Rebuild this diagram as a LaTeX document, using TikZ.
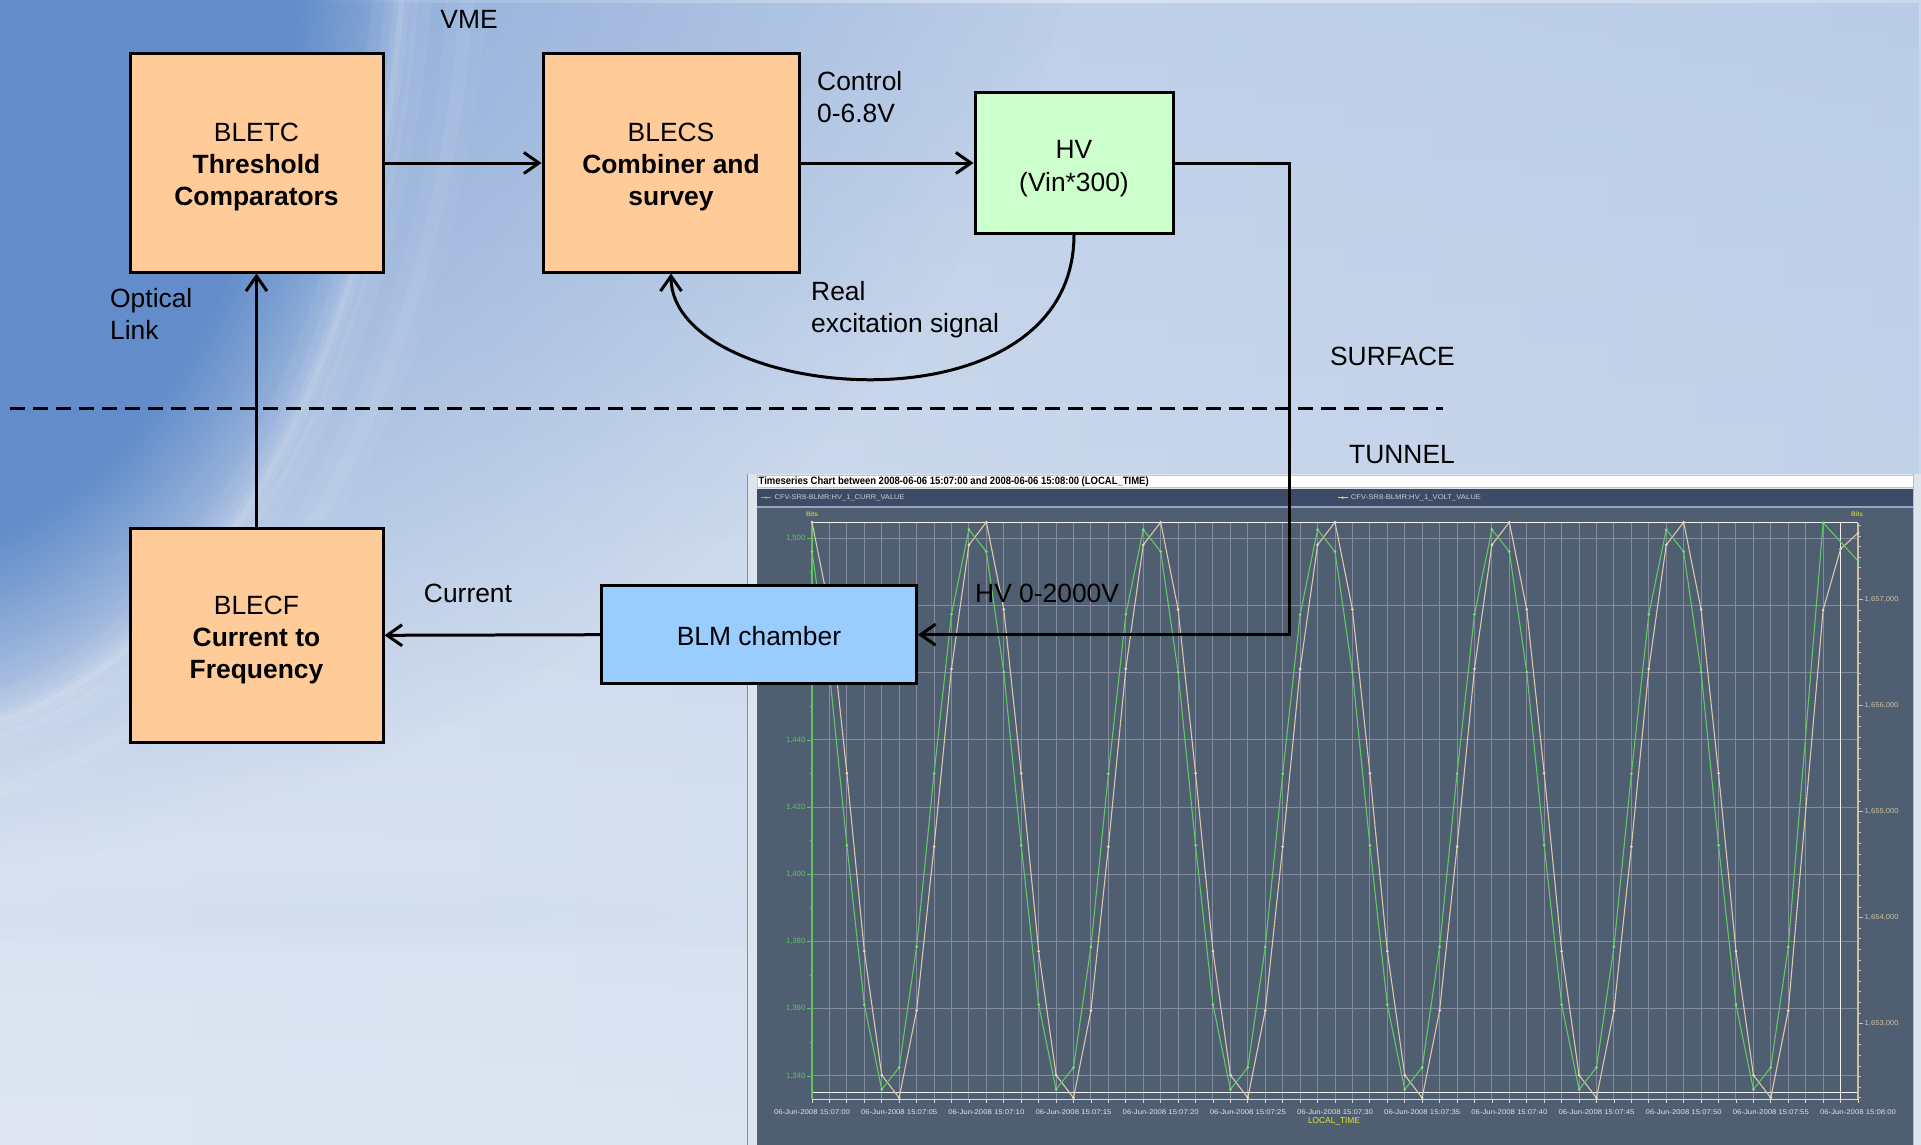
\documentclass[tikz,border=0pt]{standalone}
\usepackage{fontspec}
\usepackage{graphicx}
\setmainfont{Liberation Sans}
\usetikzlibrary{arrows.meta,fadings}

% block colours
\definecolor{boxorange}{RGB}{255,204,153}
\definecolor{boxgreen}{RGB}{204,255,204}
\definecolor{boxblue}{RGB}{153,204,255}
% backdrop colours
\definecolor{bgA}{RGB}{224,231,243}
\definecolor{bgB}{RGB}{220,229,242}
\definecolor{bgC}{RGB}{203,216,236}
\definecolor{bgTop}{RGB}{182,201,229}
\definecolor{bgHaze}{RGB}{128,162,212}
\definecolor{bgDeep}{RGB}{98,141,202}
% chart colours
\definecolor{plotbg}{RGB}{80,94,114}
\definecolor{legbar}{RGB}{61,75,103}
\definecolor{legline}{RGB}{150,165,192}
\definecolor{legtext}{RGB}{200,206,218}
\definecolor{gridc}{RGB}{134,139,160}
\definecolor{sergreen}{RGB}{98,200,98}
\definecolor{sertan}{RGB}{216,201,168}
\definecolor{axgreen}{RGB}{95,195,95}
\definecolor{axtan}{RGB}{205,192,165}
\definecolor{chartyellow}{RGB}{228,228,40}
\definecolor{panelgray}{RGB}{222,228,238}
\definecolor{panelline}{RGB}{118,146,196}
\definecolor{ticklabel}{RGB}{225,228,232}

\pgfdeclarehorizontalshading{bgsweep}{100bp}{color(0bp)=(bgA); color(25bp)=(bgA); color(45bp)=(bgB); color(75bp)=(bgC); color(100bp)=(bgC)}
\pgfdeclareradialshading{hazeshade}{\pgfpointorigin}{color(0bp)=(white); color(7bp)=(white); color(25bp)=(black); color(50bp)=(black)}
\pgfdeclarefading{hazefade}{\pgfuseshading{hazeshade}}
\pgfdeclareradialshading{coreshade}{\pgfpointorigin}{color(0bp)=(white); color(19bp)=(white); color(25bp)=(black); color(50bp)=(black)}
\pgfdeclarefading{corefade}{\pgfuseshading{coreshade}}
\tikzfading[name=topfade, top color=transparent!0, bottom color=transparent!100]

\newcommand\diafont{\fontsize{26.4}{32.2}\selectfont}
\newcommand\fitbox[3]{\resizebox{#1pt}{#2pt}{#3}}
% taller first line, to sit the block texts a little lower
\newcommand\lowstrut[1]{\rule{0pt}{#1pt}}

\begin{document}
\begin{tikzpicture}[x=1pt,y=-1pt,
  blk/.style={draw=black, line width=3pt, inner sep=0pt, align=center, font=\diafont},
  arr/.style={draw=black, line width=3pt, -{Straight Barb[length=15pt,width=21pt]}},
  lbl/.style={inner sep=0pt, align=left, font=\diafont},
  tiny/.style={inner sep=0pt},
  gridln/.style={draw=gridc, line width=1pt},
]
\useasboundingbox (0,0) rectangle (1921,1145);

% ---------- backdrop ----------
\begin{scope}
  \clip (0,0) rectangle (1921,1145);
  \shade[shading=bgsweep] (0,0) rectangle (1921,1145);
  \fill[bgTop, path fading=topfade, opacity=0.75] (0,0) rectangle (1921,1145);
  % broad blue haze from the upper left
  \fill[bgHaze, path fading=hazefade] (-300,-200) ellipse [x radius=1400, y radius=1100];
  % deeper blue core bounded by the swoosh
  \fill[bgDeep, path fading=corefade] (-100,-100) ellipse [x radius=520, y radius=850];
  % soft light swoosh arcs
  \foreach \w/\o in {60/0.05, 34/0.06, 16/0.08, 6/0.10}
    \draw[white, opacity=\o, line width=\w pt] (-100,-100) ellipse [x radius=505, y radius=838];
  \foreach \w/\o in {40/0.04, 14/0.06}
    \draw[white, opacity=\o, line width=\w pt] (-100,-100) ellipse [x radius=570, y radius=905];
  % faint horizontal band low on the left
  \fill[bgC, opacity=0.35, path fading=hazefade] (350,915) ellipse [x radius=650, y radius=40];
\end{scope}

% ---------- surface / tunnel boundary ----------
\coordinate (dashL) at (10,408.3);
\coordinate (dashR) at (1443,408.3);
\draw[black, line width=3pt, dash pattern=on 15pt off 8pt] (dashL) -- (dashR);

% ---------- time-series chart ----------
\fill[panelgray] (747,474) rectangle (1921,1145);
\draw[panelline, line width=1.2pt] (747.6,474) -- (747.6,1145);
\fill[white] (757,475.5) rectangle (1913,487.5);
\draw[gray!45, line width=0.8pt] (757,475.5) rectangle (1913,487.5);
\node[tiny, anchor=west] (ctitle) at (758.5,481.7)
  {\fitbox{390}{7.7}{\bfseries Timeseries Chart between 2008-06-06 15:07:00 and 2008-06-06 15:08:00 (LOCAL\_TIME)}};
\fill[legbar] (757,489.3) rectangle (1913,506.5);
\fill[plotbg] (757,506.5) rectangle (1913,1145);
\draw[legline, line width=1.2pt] (757,507) -- (1913,507);
\draw[panelline!60, line width=1pt] (1913.5,474) -- (1913.5,1145);

% legend
\draw[sergreen, line width=0.8pt] (761,497.7) -- (771,497.7);
\fill[sergreen] (766,497.7) circle (1.3);
\node[tiny, anchor=west, text=legtext] (leg1) at (774.4,497.7) {\fitbox{130}{4.8}{CFV-SR8-BLMR:HV\_1\_CURR\_VALUE}};
\draw[sertan, line width=0.8pt] (1337.6,497.7) -- (1347.5,497.7);
\fill[sertan] (1342.5,497.7) circle (1.3);
\node[tiny, anchor=west, text=legtext] (leg2) at (1350.7,497.7) {\fitbox{130}{4.8}{CFV-SR8-BLMR:HV\_1\_VOLT\_VALUE}};

% grid
\foreach \k in {1,...,60}
  \draw[gridln] ({812+17.433*\k},522.7) -- ({812+17.433*\k},1099.3);
\foreach \j in {0,...,8}
  \draw[gridln] (812,{538.3+67.2*\j}) -- (1858,{538.3+67.2*\j});
\draw[white!88!gray, line width=1.1pt] (812,522.7) -- (1858,522.7);
\draw[white!88!gray, line width=1.1pt] (812,1092.3) -- (1858,1092.3);
\draw[white!88!gray, line width=1.1pt] (1840.5,522.7) -- (1840.5,1099.3);

% time axis
\draw[gray!30, line width=1pt] (812,1099.3) -- (1858,1099.3);
\foreach \k in {0,...,60}
  \draw[gray!30, line width=0.8pt] ({812+17.433*\k},1099.3) -- ++(0,3.5);
\foreach \m/\s in {0/07:00,1/07:05,2/07:10,3/07:15,4/07:20,5/07:25,6/07:30,7/07:35,8/07:40,9/07:45,10/07:50,11/07:55,12/08:00}
  \node[tiny, text=ticklabel] at ({812+87.17*\m},1111.7) {\fitbox{76}{4.8}{06-Jun-2008 15:\s}};
\node[tiny, text=chartyellow] (ltime) at (1334,1121.7) {\fitbox{52}{6}{LOCAL\_TIME}};

% left axis (current, bits)
\draw[axgreen, line width=1.2pt] (812,522.7) -- (812,1099.3);
\foreach \j in {0,...,8} {
  \draw[axgreen, line width=0.8pt] (807,{538.3+67.2*\j}) -- (812,{538.3+67.2*\j});
  \pgfmathtruncatemacro\vv{500-20*\j}
  \node[tiny, anchor=east, text=axgreen] at (805.5,{538.3+67.2*\j}) {\fitbox{19.3}{5.4}{1,\vv}};
}
\foreach \j in {0,...,7}
  \draw[axgreen, line width=0.8pt] (809.5,{571.9+67.2*\j}) -- (812,{571.9+67.2*\j});
\node[tiny, text=chartyellow] (bitsL) at (812,514.3) {\fitbox{12}{4.6}{Bits}};

% right axis (voltage, bits)
\draw[axtan, line width=1.2pt] (1858,522.7) -- (1858,1099.3);
\foreach \i in {-7,...,47}
  \draw[axtan, line width=0.8pt] (1858,{599.5+10.6*\i}) -- ++(2.8,0);
\foreach \i in {0,...,4} {
  \draw[axtan, line width=0.8pt] (1858,{599.5+106*\i}) -- ++(4.5,0);
  \pgfmathtruncatemacro\vv{657-\i}
  \node[tiny, anchor=west, text=axtan] at (1864.5,{599.5+106*\i}) {\fitbox{34}{5}{1,\vv,000}};
}
\node[tiny, text=chartyellow] (bitsR) at (1857,514.3) {\fitbox{12}{4.6}{Bits}};

% voltage series
\draw[sertan, line width=1.1pt, line join=round]
  plot[samples at={0,...,56}] ({812+17.433*\x},{810-293*cos(36*(\x-9.7))})
  -- ({812+17.433*58},610) -- ({812+17.433*59},549) -- ({812+17.433*60},533);
\foreach \x in {0,...,56}
  \fill[sertan!70!white] ({812+17.433*\x},{810-293*cos(36*(\x-9.7))}) circle (1.5);
\foreach \x/\y in {58/610,59/549,60/533}
  \fill[sertan!70!white] ({812+17.433*\x},\y) circle (1.5);

% current series
\draw[sergreen, line width=1.1pt, line join=round]
  plot[samples at={0,...,56}] ({812+17.433*\x},{809.5-285*cos(36*(\x-9.3))})
  -- ({812+17.433*58},522.7) -- ({812+17.433*60},561);
\foreach \x in {0,...,56}
  \fill[sergreen!75!white] ({812+17.433*\x},{809.5-285*cos(36*(\x-9.3))}) circle (1.5);
\foreach \x/\y in {58/522.7,60/561}
  \fill[sergreen!75!white] ({812+17.433*\x},\y) circle (1.5);

% ---------- blocks ----------
\node[blk, fill=boxorange, minimum width=253pt, minimum height=218pt] (bletc) at (256.5,163)
  {\lowstrut{27}BLETC\\\textbf{Threshold}\\\textbf{Comparators}};
\node[blk, fill=boxorange, minimum width=256pt, minimum height=218pt] (blecs) at (671,163)
  {\lowstrut{27}BLECS\\\textbf{Combiner and}\\\textbf{survey}};
\node[blk, fill=boxgreen, minimum width=198pt, minimum height=140pt] (hv) at (1074,163)
  {\lowstrut{29.5}HV\\(Vin*300)};
\node[blk, fill=boxorange, minimum width=253pt, minimum height=214pt] (blecf) at (256.5,635.3)
  {\lowstrut{27.5}BLECF\\\textbf{Current to}\\\textbf{Frequency}};
\node[blk, fill=boxblue, minimum width=315pt, minimum height=98pt] (blm) at (759,634.7)
  {\lowstrut{21}BLM chamber};

% ---------- connectors ----------
\coordinate (hvturn) at (1289.6,634.7);
\draw[arr] (bletc.east) -- (blecs.west);
\draw[arr] (blecs.east) -- (hv.west);
\draw[arr] (hv.east) -| (hvturn) -- (blm.east);
\draw[arr] (blm.west) -- (blecf.east);
\draw[arr] (blecf.north) -- (bletc.south);
\draw[arr] (hv.south) .. controls (1074,440) and (671,402) .. (blecs.south);

% ---------- labels ----------
\node[lbl] (vme) at (469,19.6) {VME};
\node[lbl, anchor=west] (ctl) at (817,97) {Control\\0-6.8V};
\node[lbl, anchor=west] (real) at (811,309.5) {Real\\excitation signal};
\node[lbl, anchor=west] (opt) at (110,314.3) {Optical\\Link};
\node[lbl] (cur) at (468,593) {Current};
\node[lbl, anchor=west] (hvr) at (975,593) {HV 0-2000V};
\node[lbl, anchor=east] (surf) at (1455,356.7) {SURFACE};
\node[lbl, anchor=east] (tun) at (1455,455) {TUNNEL};
\end{tikzpicture}
\end{document}
